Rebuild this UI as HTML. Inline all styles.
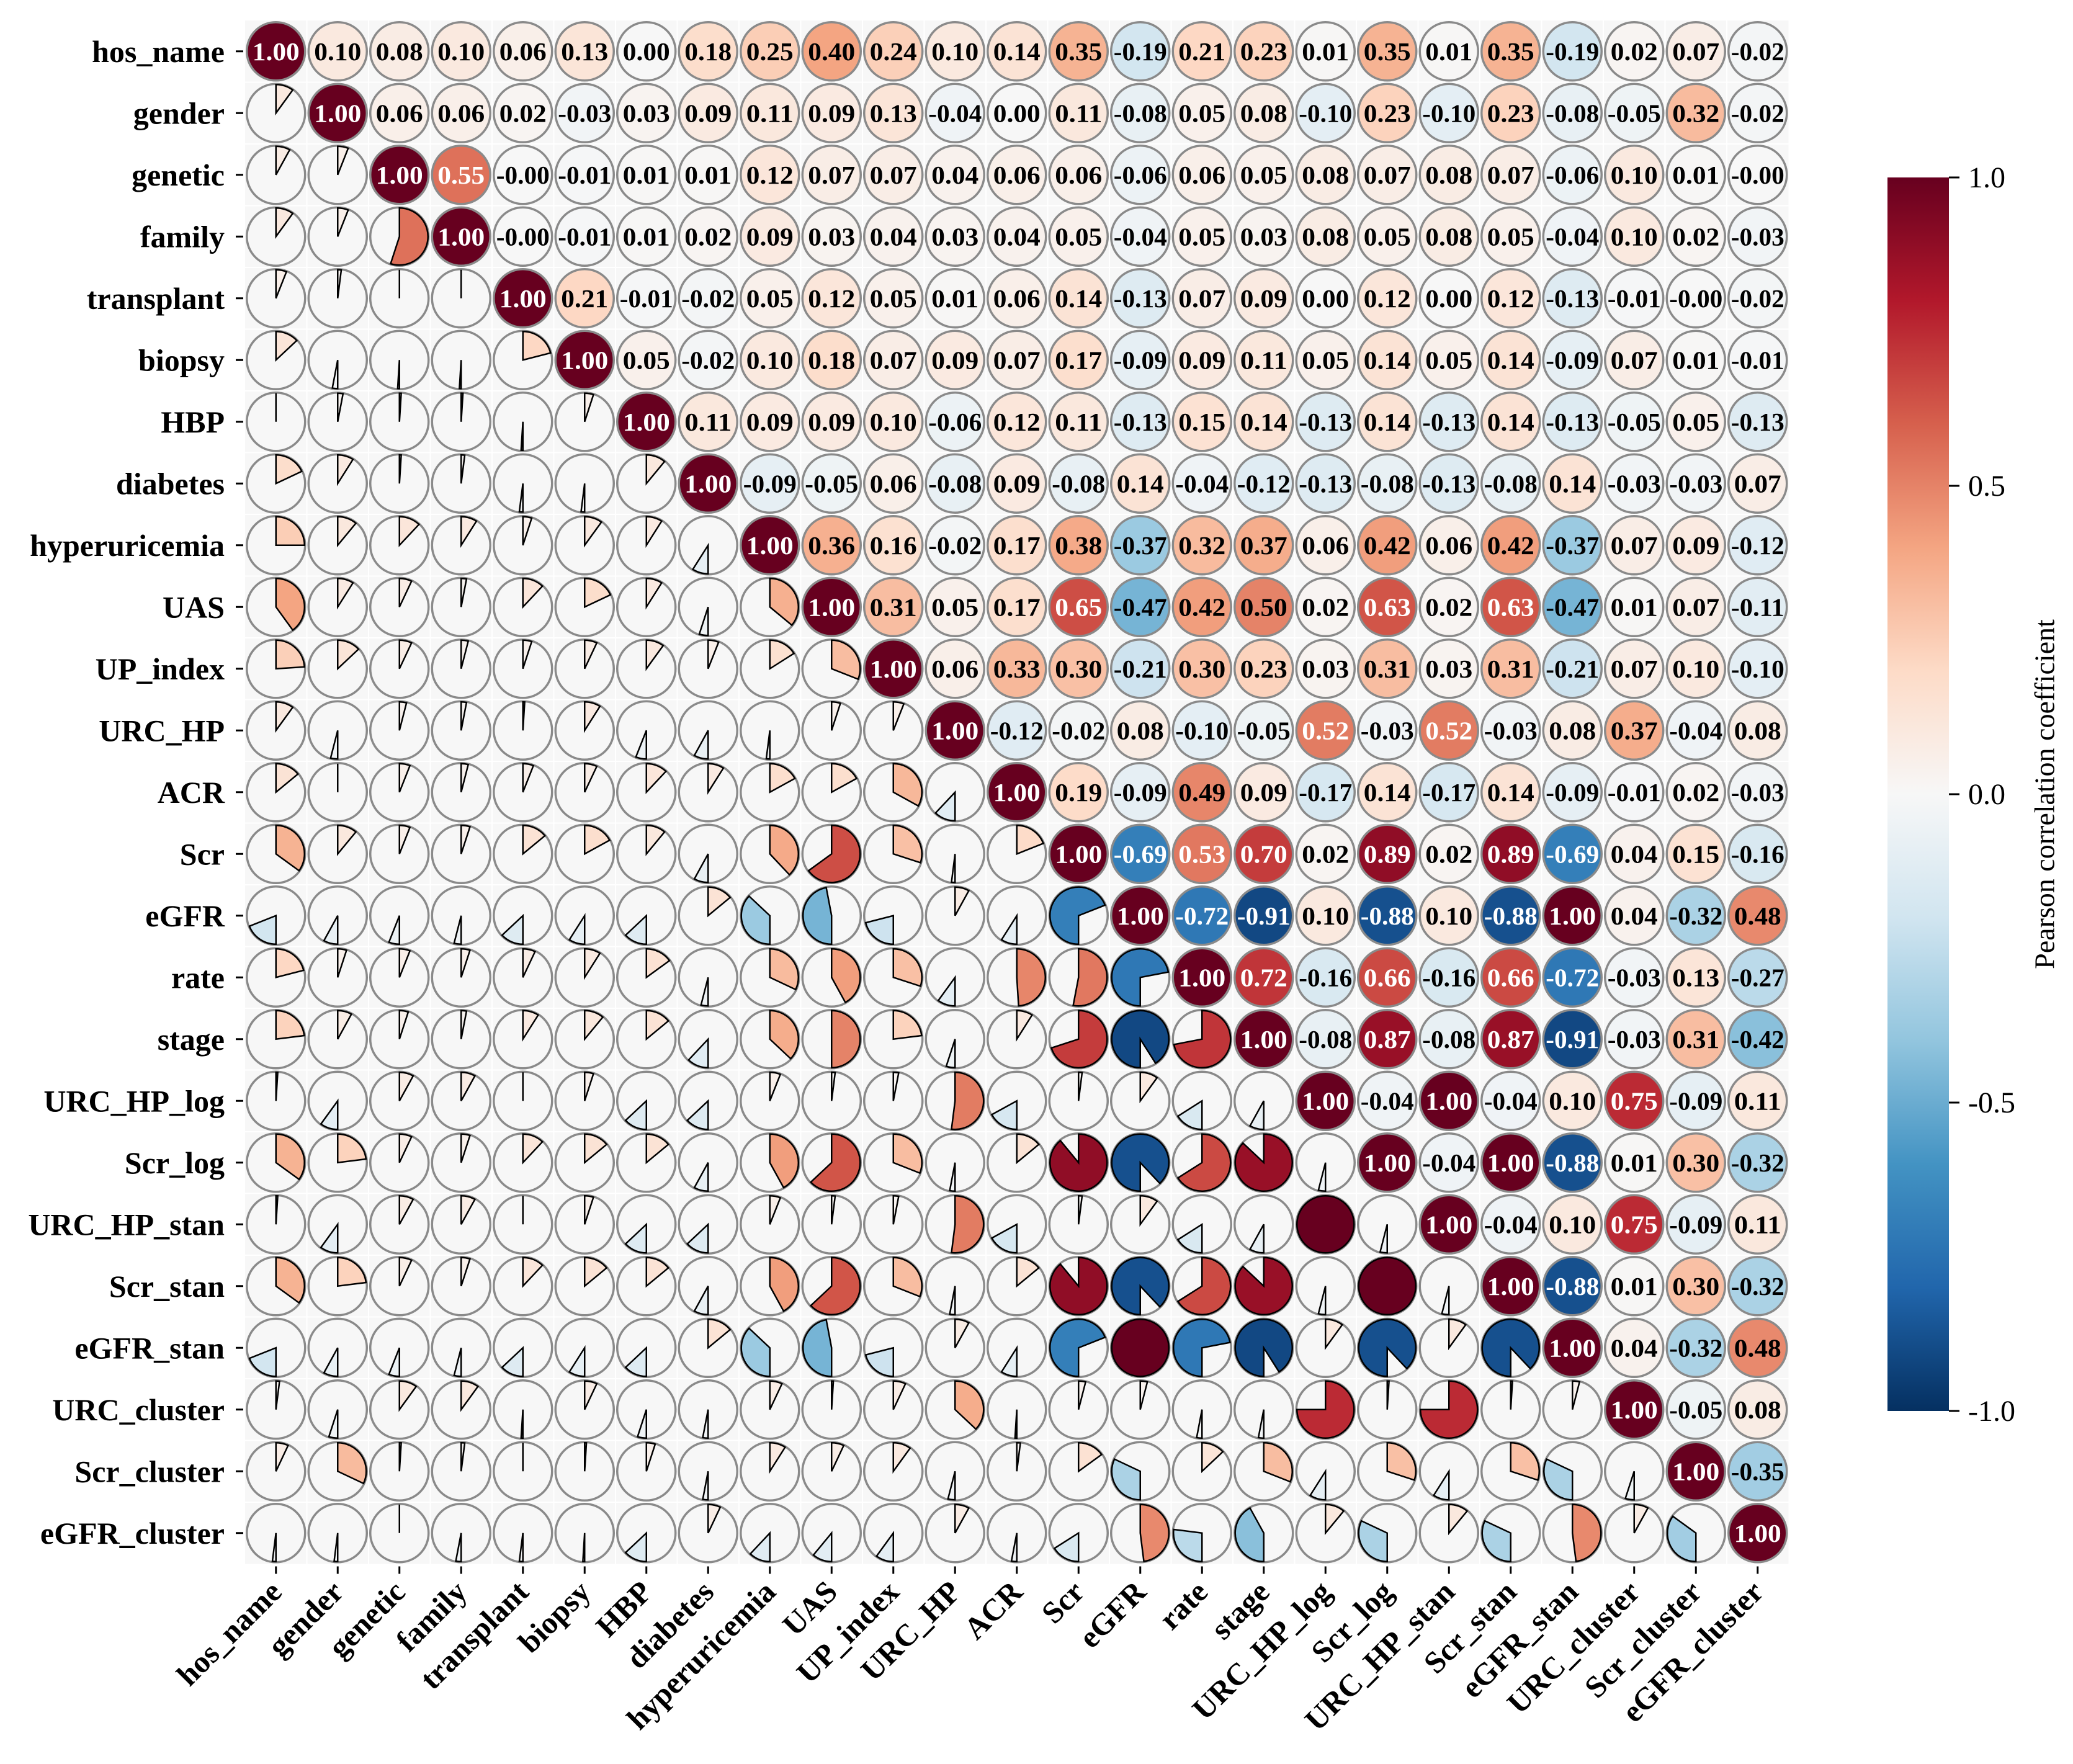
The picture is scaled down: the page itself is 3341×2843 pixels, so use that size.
<!DOCTYPE html>
<html><head><meta charset="utf-8">
<style>
html,body{margin:0;padding:0;background:#fff;}
svg{display:block;font-family:"Liberation Serif",serif;}
</style></head>
<body>
<svg id="chart" width="3341" height="2843" viewBox="0 0 3341 2843" xmlns="http://www.w3.org/2000/svg">
<defs>
<linearGradient id="cbgrad" x1="0" y1="1" x2="0" y2="0">
<stop offset="0" stop-color="#053061"/><stop offset="0.1" stop-color="#2166ac"/><stop offset="0.2" stop-color="#4393c3"/><stop offset="0.3" stop-color="#92c5de"/><stop offset="0.4" stop-color="#d1e5f0"/><stop offset="0.5" stop-color="#f7f7f7"/><stop offset="0.6" stop-color="#fddbc7"/><stop offset="0.7" stop-color="#f4a582"/><stop offset="0.8" stop-color="#d6604d"/><stop offset="0.9" stop-color="#b2182b"/><stop offset="1" stop-color="#67001f"/>
</linearGradient>
</defs>
<g id="grid"></g>
<g id="labels"></g>
<g id="colorbar">
<rect x="3042" y="286" width="99" height="1988" fill="url(#cbgrad)"/>
</g>
<text x="3300" y="1280" font-size="46" text-anchor="middle" transform="rotate(-90 3300 1280)" dominant-baseline="middle">Pearson correlation coefficient</text>
</svg>
<script>
const variables = ["hos_name","gender","genetic","family","transplant","biopsy","HBP","diabetes","hyperuricemia","UAS","UP_index","URC_HP","ACR","Scr","eGFR","rate","stage","URC_HP_log","Scr_log","URC_HP_stan","Scr_stan","eGFR_stan","URC_cluster","Scr_cluster","eGFR_cluster"];
const upperRows = [
[1.00,0.10,0.08,0.10,0.06,0.13,0.00,0.18,0.25,0.40,0.24,0.10,0.14,0.35,-0.19,0.21,0.23,0.01,0.35,0.01,0.35,-0.19,0.02,0.07,-0.02],
[1.00,0.06,0.06,0.02,-0.03,0.03,0.09,0.11,0.09,0.13,-0.04,0.00,0.11,-0.08,0.05,0.08,-0.10,0.23,-0.10,0.23,-0.08,-0.05,0.32,-0.02],
[1.00,0.55,-0.00,-0.01,0.01,0.01,0.12,0.07,0.07,0.04,0.06,0.06,-0.06,0.06,0.05,0.08,0.07,0.08,0.07,-0.06,0.10,0.01,-0.00],
[1.00,-0.00,-0.01,0.01,0.02,0.09,0.03,0.04,0.03,0.04,0.05,-0.04,0.05,0.03,0.08,0.05,0.08,0.05,-0.04,0.10,0.02,-0.03],
[1.00,0.21,-0.01,-0.02,0.05,0.12,0.05,0.01,0.06,0.14,-0.13,0.07,0.09,0.00,0.12,0.00,0.12,-0.13,-0.01,-0.00,-0.02],
[1.00,0.05,-0.02,0.10,0.18,0.07,0.09,0.07,0.17,-0.09,0.09,0.11,0.05,0.14,0.05,0.14,-0.09,0.07,0.01,-0.01],
[1.00,0.11,0.09,0.09,0.10,-0.06,0.12,0.11,-0.13,0.15,0.14,-0.13,0.14,-0.13,0.14,-0.13,-0.05,0.05,-0.13],
[1.00,-0.09,-0.05,0.06,-0.08,0.09,-0.08,0.14,-0.04,-0.12,-0.13,-0.08,-0.13,-0.08,0.14,-0.03,-0.03,0.07],
[1.00,0.36,0.16,-0.02,0.17,0.38,-0.37,0.32,0.37,0.06,0.42,0.06,0.42,-0.37,0.07,0.09,-0.12],
[1.00,0.31,0.05,0.17,0.65,-0.47,0.42,0.50,0.02,0.63,0.02,0.63,-0.47,0.01,0.07,-0.11],
[1.00,0.06,0.33,0.30,-0.21,0.30,0.23,0.03,0.31,0.03,0.31,-0.21,0.07,0.10,-0.10],
[1.00,-0.12,-0.02,0.08,-0.10,-0.05,0.52,-0.03,0.52,-0.03,0.08,0.37,-0.04,0.08],
[1.00,0.19,-0.09,0.49,0.09,-0.17,0.14,-0.17,0.14,-0.09,-0.01,0.02,-0.03],
[1.00,-0.69,0.53,0.70,0.02,0.89,0.02,0.89,-0.69,0.04,0.15,-0.16],
[1.00,-0.72,-0.91,0.10,-0.88,0.10,-0.88,1.00,0.04,-0.32,0.48],
[1.00,0.72,-0.16,0.66,-0.16,0.66,-0.72,-0.03,0.13,-0.27],
[1.00,-0.08,0.87,-0.08,0.87,-0.91,-0.03,0.31,-0.42],
[1.00,-0.04,1.00,-0.04,0.10,0.75,-0.09,0.11],
[1.00,-0.04,1.00,-0.88,0.01,0.30,-0.32],
[1.00,-0.04,0.10,0.75,-0.09,0.11],
[1.00,-0.88,0.01,0.30,-0.32],
[1.00,0.04,-0.32,0.48],
[1.00,-0.05,0.08],
[1.00,-0.35],
[1.00]
];
const cbTicks = [1.0,0.5,0.0,-0.5,-1.0];
const cbTickLabels = ["1.0","0.5","0.0","-0.5","-1.0"];

const NS="http://www.w3.org/2000/svg";
const n=variables.length, S=99.5, X0=395, Y0=33, R=47;
const cx=i=>X0+S*i+S/2, cy=j=>Y0+S*j+S/2;
const cbY=v=>286+(1-v)/2*1988;
const stops=["#053061","#2166ac","#4393c3","#92c5de","#d1e5f0","#f7f7f7","#fddbc7","#f4a582","#d6604d","#b2182b","#67001f"].map(h=>[1,3,5].map(k=>parseInt(h.substr(k,2),16)));
function cmap(v){let t=(Math.max(-1,Math.min(1,v))+1)/2*10;let i=Math.min(9,Math.floor(t)),f=t-i;const a=stops[i],b=stops[i+1];return "rgb("+a.map((c,k)=>Math.round(c+(b[k]-c)*f)).join(",")+")";}
function mk(tag,attrs,parent){const e=document.createElementNS(NS,tag);for(const k in attrs)e.setAttribute(k,attrs[k]);parent.appendChild(e);return e;}
const M=[];for(let i=0;i<n;i++)M.push(new Array(n).fill(0));
for(let i=0;i<n;i++)for(let k=0;k<upperRows[i].length;k++){M[i][i+k]=upperRows[i][k];M[i+k][i]=upperRows[i][k];}
const g=document.getElementById('grid');
const bg=mk('rect',{x:X0,y:Y0,width:S*n,height:S*n,fill:'#f7f7f7'},g);


for(let i=1;i<n;i++){
 const l1=mk('line',{x1:X0+S*i,y1:Y0,x2:X0+S*i,y2:Y0+S*n,stroke:'#fff','stroke-width':2},g);
 
 
 const l2=mk('line',{x1:X0,y1:Y0+S*i,x2:X0+S*n,y2:Y0+S*i,stroke:'#fff','stroke-width':2},g);
 
 
}
for(let r=0;r<n;r++)for(let c=0;c<n;c++){
 const v=M[r][c],x=cx(c),y=cy(r);
 if(c>=r){
  const circ=mk('circle',{cx:x,cy:y,r:R,fill:cmap(v),stroke:'#8a8a8a','stroke-width':3.5},g);
  
  
  const t=mk('text',{x:x,y:y+14,'font-size':41,'font-weight':'bold','text-anchor':'middle',textLength:86,lengthAdjust:'spacingAndGlyphs',fill:Math.abs(v)>0.505?'#fff':'#000'},g);
  const s=(v<0||Object.is(v,-0)?"-":"")+Math.abs(v).toFixed(2);
  t.textContent=s;
  if(s.length<5){t.setAttribute('textLength',76);}
  
  
 }else{
  const base=mk('circle',{cx:x,cy:y,r:R,fill:'#f7f7f7',stroke:'#8a8a8a','stroke-width':3.5},g);
  
  
  const rr=R-1;
  if(Math.abs(v)>=0.999){
   const fc=mk('circle',{cx:x,cy:y,r:rr,fill:cmap(v),stroke:'#000','stroke-width':2.5},g);
   
   
   continue;
  }
  const a=Math.abs(v)*2*Math.PI;
  const st=v>=0?-Math.PI/2:Math.PI/2;
  const en=st+a;
  const x1=x+rr*Math.cos(st),y1=y+rr*Math.sin(st),x2=x+rr*Math.cos(en),y2=y+rr*Math.sin(en);
  const large=a>Math.PI?1:0;
  const d="M"+x+","+y+" L"+x1.toFixed(2)+","+y1.toFixed(2)+" A"+rr+","+rr+" 0 "+large+" 1 "+x2.toFixed(2)+","+y2.toFixed(2)+" Z";
  const p=mk('path',{d:d,fill:cmap(v),stroke:'#000','stroke-width':2.5,'stroke-linejoin':'miter'},g);
  
  
 }
}
const lg=document.getElementById('labels');
for(let i=0;i<n;i++){
 const yt=mk('text',{x:362,y:cy(i)+17,'font-size':50,'font-weight':'bold','text-anchor':'end'},lg);
 yt.textContent=variables[i];
 
 
 const ytk=mk('line',{x1:380,y1:cy(i),x2:392,y2:cy(i),stroke:'#000','stroke-width':3},lg);
 
 
 const xtk=mk('line',{x1:cx(i),y1:Y0+S*n+4,x2:cx(i),y2:Y0+S*n+16,stroke:'#000','stroke-width':3},lg);
 
 
 const tx=cx(i)+12, ty=Y0+S*n+48;
 const xt=mk('text',{x:tx,y:ty,'font-size':50,'font-weight':'bold','text-anchor':'end',transform:'rotate(-45 '+tx+' '+ty+')'},lg);
 xt.textContent=variables[i];
 
 
}
const cb=document.getElementById('colorbar');
cbTicks.forEach((v,k)=>{
 const y=cbY(v);
 const tl=mk('line',{x1:3141,y1:y,x2:3158,y2:y,stroke:'#000','stroke-width':3},cb);
 
 
 const tt=mk('text',{x:3172,y:y+16,'font-size':48},cb);
 tt.textContent=cbTickLabels[k];
 
 
});
</script>
</body></html>
